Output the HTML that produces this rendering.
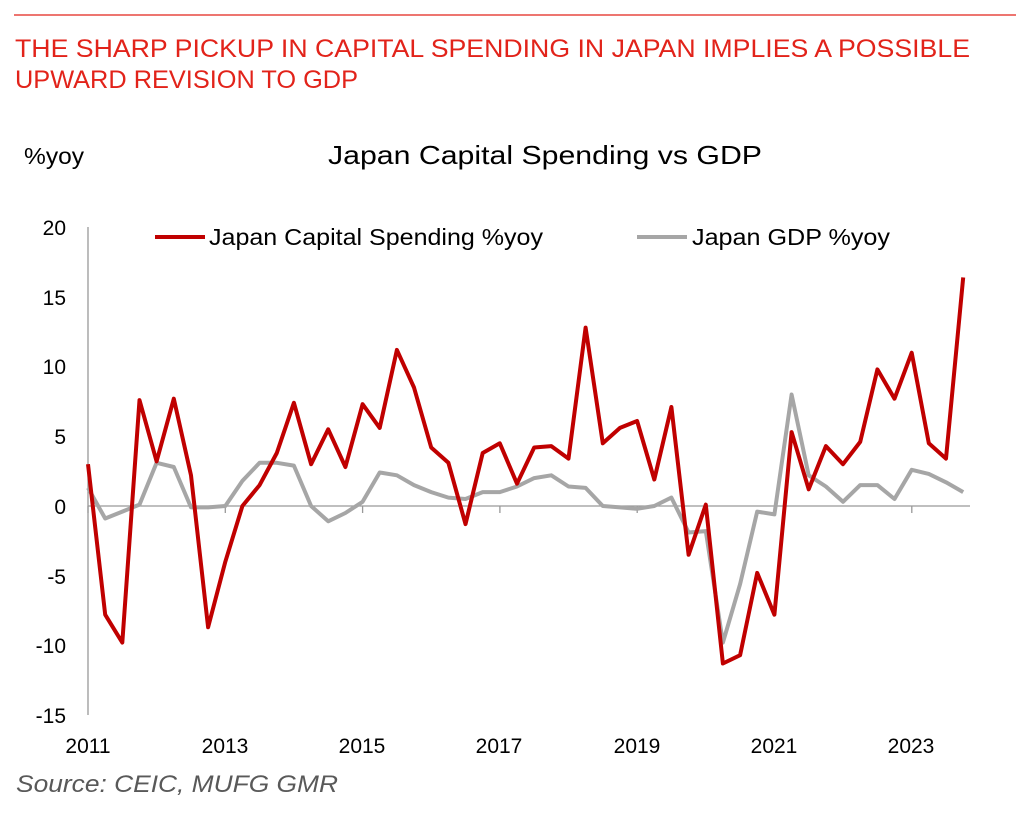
<!DOCTYPE html>
<html><head><meta charset="utf-8"><style>
body{margin:0;background:#fff;width:1022px;height:834px;overflow:hidden;font-family:"Liberation Sans",Arial,sans-serif}
</style></head><body>
<svg width="1022" height="834" xmlns="http://www.w3.org/2000/svg" font-family="Liberation Sans, Arial, sans-serif">
<line x1="14" y1="15" x2="1016" y2="15" stroke="#e2231a" stroke-width="1.2"/>
<text x="15" y="57" font-size="25" fill="#e2231a" textLength="955" lengthAdjust="spacingAndGlyphs">THE SHARP PICKUP IN CAPITAL SPENDING IN JAPAN IMPLIES A POSSIBLE</text>
<text x="15" y="88" font-size="25" fill="#e2231a" textLength="343" lengthAdjust="spacingAndGlyphs">UPWARD REVISION TO GDP</text>
<text x="24" y="164" font-size="23" fill="#000" textLength="60" lengthAdjust="spacingAndGlyphs">%yoy</text>
<text x="328" y="164" font-size="26" fill="#000" textLength="434" lengthAdjust="spacingAndGlyphs">Japan Capital Spending vs GDP</text>
<g font-size="21" fill="#000" text-anchor="end">
<text x="66" y="235">20</text><text x="66" y="305">15</text><text x="66" y="374">10</text>
<text x="66" y="444">5</text><text x="66" y="514">0</text><text x="66" y="584">-5</text>
<text x="66" y="653">-10</text><text x="66" y="723">-15</text>
</g>
<line x1="88" y1="227" x2="88" y2="715" stroke="#999" stroke-width="1.3"/>
<line x1="88" y1="506" x2="970" y2="506" stroke="#999" stroke-width="1.3"/>
<g stroke="#999" stroke-width="1.3" id="ticks"></g>
<g font-size="21" fill="#000" text-anchor="middle">
<text x="88" y="753">2011</text><text x="225" y="753">2013</text><text x="362" y="753">2015</text>
<text x="499" y="753">2017</text><text x="637" y="753">2019</text><text x="774" y="753">2021</text><text x="911" y="753">2023</text>
</g>
<line x1="155" y1="237" x2="205" y2="237" stroke="#c00000" stroke-width="4"/>
<text x="209" y="245" font-size="23" textLength="334" lengthAdjust="spacingAndGlyphs">Japan Capital Spending %yoy</text>
<line x1="637" y1="237" x2="687" y2="237" stroke="#a6a6a6" stroke-width="4"/>
<text x="692" y="245" font-size="23" textLength="198" lengthAdjust="spacingAndGlyphs">Japan GDP %yoy</text>
<polyline id="g" fill="none" stroke="#a6a6a6" stroke-width="4" stroke-linejoin="round"/>
<polyline id="r" fill="none" stroke="#c00000" stroke-width="4" stroke-linejoin="round"/>
<text x="16" y="792" font-size="24" font-style="italic" fill="#595959" textLength="322" lengthAdjust="spacingAndGlyphs">Source: CEIC, MUFG GMR</text>
</svg>
<script>
var R=[3,-7.8,-9.8,7.6,3.2,7.7,2.2,-8.7,-4,0,1.5,3.8,7.4,3,5.5,2.8,7.3,5.6,11.2,8.5,4.2,3.1,-1.3,3.8,4.5,1.6,4.2,4.3,3.4,12.8,4.5,5.6,6.1,1.9,7.1,-3.5,0.1,-11.3,-10.7,-4.8,-7.8,5.3,1.2,4.3,3.0,4.6,9.8,7.7,11,4.5,3.4,16.4];
var G=[1.3,-0.9,-0.4,0.1,3.1,2.8,-0.1,-0.1,0,1.8,3.1,3.1,2.9,0,-1.1,-0.5,0.3,2.4,2.2,1.5,1.0,0.6,0.5,1.0,1.0,1.4,2.0,2.2,1.4,1.3,0,-0.1,-0.2,0,0.6,-1.9,-1.8,-9.8,-5.6,-0.4,-0.6,8.0,2.2,1.4,0.3,1.5,1.5,0.5,2.6,2.3,1.7,1.0];
function pts(a){return a.map(function(v,i){return (88+i*17.16).toFixed(1)+","+(506-v*13.94).toFixed(1)}).join(" ")}
document.getElementById("r").setAttribute("points",pts(R));
document.getElementById("g").setAttribute("points",pts(G));
var t=document.getElementById("ticks"),s="";
for(var i=0;i<7;i++){var x=88+i*137.3;s+='<line x1="'+x+'" y1="506" x2="'+x+'" y2="513"/>';}
t.innerHTML=s;
</script>
</body></html>
